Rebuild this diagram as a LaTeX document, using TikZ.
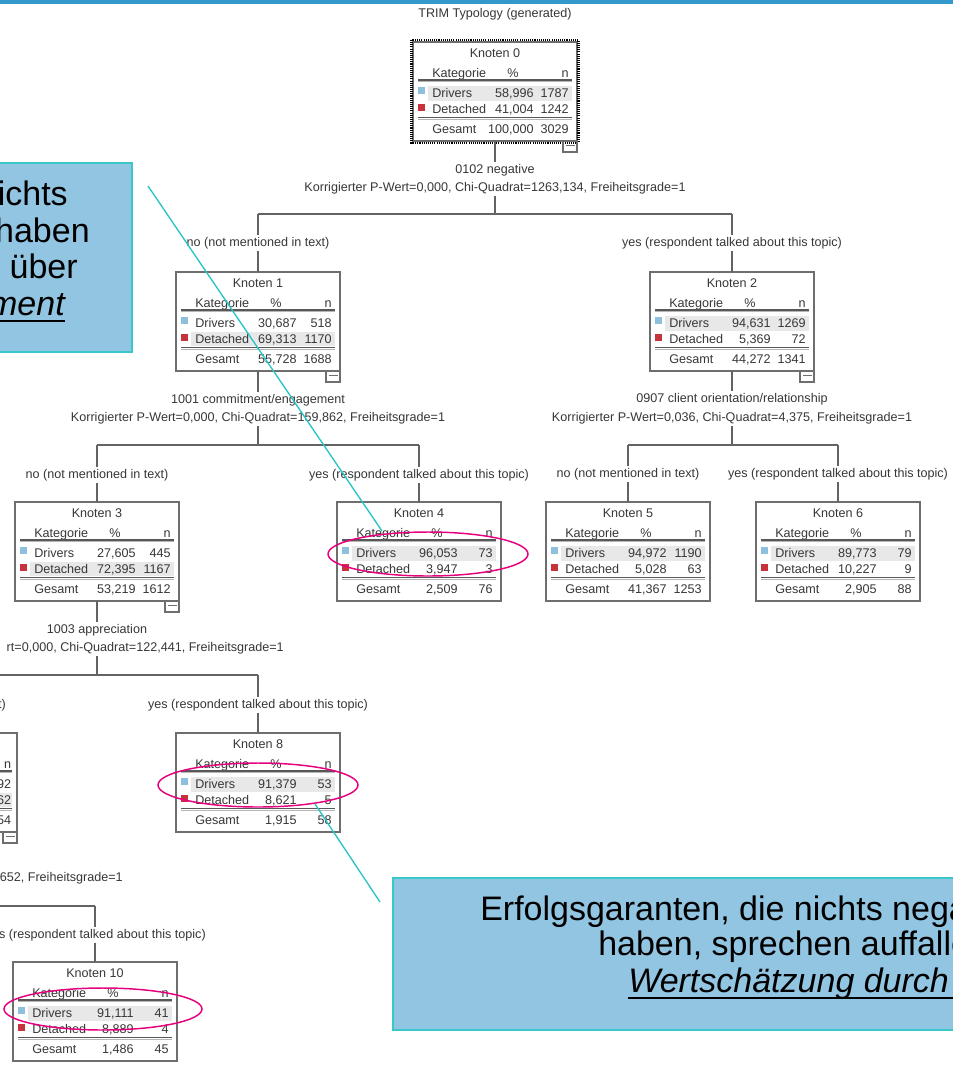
\documentclass[tikz,border=0pt]{standalone}
\usepackage{fontspec}
\setmainfont{Liberation Sans}
\usetikzlibrary{shapes.geometric}
\definecolor{barblue}{RGB}{51,153,204}
\definecolor{calfill}{RGB}{146,197,226}
\definecolor{calline}{RGB}{56,200,204}
\definecolor{mag}{RGB}{230,0,126}
\definecolor{tealln}{RGB}{40,196,196}
\definecolor{drv}{RGB}{142,192,222}
\definecolor{det}{RGB}{200,50,60}
\definecolor{hlg}{RGB}{232,232,232}
\definecolor{txt}{RGB}{55,55,55}
\definecolor{frm}{RGB}{110,110,110}
\tikzset{
  tt/.style={font=\fontsize{9.45pt}{11pt}\selectfont, text=txt, inner sep=1.5pt},
  kbox/.style={draw=frm, line width=1pt, minimum width=123pt, minimum height=74.25pt, inner sep=0pt, outer sep=0pt},
  collbox/.style={draw=frm, line width=0.8pt, minimum width=10.5pt, minimum height=8.25pt, inner sep=0pt, outer sep=0pt},
  sepa/.style={draw=frm!80!black, line width=0.8pt},
  sepb/.style={draw=frm!50, line width=0.6pt},
  tree/.style={draw=frm!90!black, line width=0.8pt},
  callout/.style={draw=calline, fill=calfill, line width=1.5pt, inner sep=0pt, outer sep=0pt},
  big/.style={font=\fontsize{25.5pt}{27pt}\selectfont, text=black, inner sep=0pt},
  ell/.style={draw=mag, line width=1.1pt, ellipse, inner sep=0pt},
  tl/.style={draw=tealln, line width=1pt}
}
\newcommand\knbox[5]{%
  \node[kbox, anchor=north west] (#1) at (#2,#3) {};
  \begin{scope}[shift={(#2,#3)}]
    \ifnum#5=1 \fill[hlg] (15,43.5) rectangle (159,58.5);\else\fill[hlg] (15,59.5) rectangle (159,74);\fi
    \node[tt, anchor=base] (#1-t) at (82,15) {#4};
    \node[tt, anchor=base west] (#1-k) at (17,35) {Kategorie};
    \node[tt, anchor=base] (#1-p) at (100,35) {\%};
    \node[tt, anchor=base east] (#1-n) at (158,35) {n};
    \draw[sepa] (5,38) -- (159,38);
    \draw[sepb] (5,39.8) -- (159,39.8);
    \fill[drv] (5,45) rectangle (12,52);
    \fill[det] (5,62) rectangle (12,69);
    \node[tt, anchor=base west] (#1-d) at (17,55) {Drivers};
    \node[tt, anchor=base west] (#1-e) at (17,71) {Detached};
    \draw[sepa] (5,75.5) -- (159,75.5);
    \draw[sepb] (5,77.3) -- (159,77.3);
    \node[tt, anchor=base west] (#1-g) at (17,91) {Gesamt};
  \end{scope}}
\newcommand\knvals[9]{%
  \begin{scope}[shift={(#2,#3)}]
    \node[tt, anchor=base east] (#1-p1) at (123,55) {#4};
    \node[tt, anchor=base east] (#1-n1) at (158,55) {#5};
    \node[tt, anchor=base east] (#1-p2) at (123,71) {#6};
    \node[tt, anchor=base east] (#1-n2) at (158,71) {#7};
    \node[tt, anchor=base east] (#1-p3) at (123,91) {#8};
    \node[tt, anchor=base east] (#1-n3) at (158,91) {#9};
  \end{scope}}
\newcommand\kncoll[3]{%
  \begin{scope}[shift={(#2,#3)}]
    \node[collbox, anchor=north east] (#1-c) at (164,99) {};
    \draw[draw=frm, line width=0.7pt] (152.5,103.5) -- (161.5,103.5);
  \end{scope}}
\begin{document}
\begin{tikzpicture}[x=0.75pt, y=-0.75pt]
\useasboundingbox (0,0) rectangle (953,1068);
\clip (0,0) rectangle (953,1068);
\fill[white] (0,0) rectangle (953,1068);
\fill[barblue] (0,0) rectangle (953,3.5);
\node[tt, anchor=base] (title) at (495,17) {TRIM Typology (generated)};

% ---- Knoten 0
\knbox{k0}{413}{42}{Knoten 0}{1}
\knvals{k0}{413}{42}{58,996}{1787}{41,004}{1242}{100,000}{3029}
\draw[black, line width=2.2pt, dash pattern=on 0.8pt off 0.8pt] (411.5,40) rectangle (578.5,143);
\kncoll{k0}{413}{42}

\node[tt, anchor=base] (s0a) at (495,173) {0102 negative};
\node[tt, anchor=base] (s0b) at (495,191) {Korrigierter P-Wert=0,000, Chi-Quadrat=1263,134, Freiheitsgrade=1};
\coordinate (b0) at (495,214);
\coordinate (b0l) at (258,214);
\coordinate (b0r) at (732,214);
\node[tt, anchor=base] (y0n) at (258,246) {no (not mentioned in text)};
\node[tt, anchor=base] (y0y) at (732,246) {yes (respondent talked about this topic)};
\draw[tree] (k0) -- (s0a);
\draw[tree] (s0b) -- (b0);
\draw[tree] (b0l) -- (b0r);
\draw[tree] (b0l) -- (y0n);
\draw[tree] (b0r) -- (y0y);

% ---- Knoten 1
\knbox{k1}{176}{272}{Knoten 1}{2}
\knvals{k1}{176}{272}{30,687}{518}{69,313}{1170}{55,728}{1688}
\kncoll{k1}{176}{272}
\draw[tree] (y0n) -- (k1);
\node[tt, anchor=base] (s1a) at (258,403) {1001 commitment/engagement};
\node[tt, anchor=base] (s1b) at (258,421) {Korrigierter P-Wert=0,000, Chi-Quadrat=159,862, Freiheitsgrade=1};
\coordinate (b1) at (258,445);
\coordinate (b1l) at (97,445);
\coordinate (b1r) at (419,445);
\node[tt, anchor=base] (y1n) at (97,478) {no (not mentioned in text)};
\node[tt, anchor=base] (y1y) at (419,478) {yes (respondent talked about this topic)};
\draw[tree] (k1) -- (s1a);
\draw[tree] (s1b) -- (b1);
\draw[tree] (b1l) -- (b1r);
\draw[tree] (b1l) -- (y1n);
\draw[tree] (b1r) -- (y1y);

% ---- Knoten 2
\knbox{k2}{650}{272}{Knoten 2}{1}
\knvals{k2}{650}{272}{94,631}{1269}{5,369}{72}{44,272}{1341}
\kncoll{k2}{650}{272}
\draw[tree] (y0y) -- (k2);
\node[tt, anchor=base] (s2a) at (732,402) {0907 client orientation/relationship};
\node[tt, anchor=base] (s2b) at (732,421) {Korrigierter P-Wert=0,036, Chi-Quadrat=4,375, Freiheitsgrade=1};
\coordinate (b2) at (732,445);
\coordinate (b2l) at (628,445);
\coordinate (b2r) at (838,445);
\node[tt, anchor=base] (y2n) at (628,477) {no (not mentioned in text)};
\node[tt, anchor=base] (y2y) at (838,477) {yes (respondent talked about this topic)};
\draw[tree] (k2) -- (s2a);
\draw[tree] (s2b) -- (b2);
\draw[tree] (b2l) -- (b2r);
\draw[tree] (b2l) -- (y2n);
\draw[tree] (b2r) -- (y2y);

% ---- Knoten 3..6
\knbox{k3}{15}{502}{Knoten 3}{2}
\knvals{k3}{15}{502}{27,605}{445}{72,395}{1167}{53,219}{1612}
\kncoll{k3}{15}{502}
\draw[tree] (y1n) -- (k3);
\knbox{k4}{337}{502}{Knoten 4}{1}
\knvals{k4}{337}{502}{96,053}{73}{3,947}{3}{2,509}{76}
\draw[tree] (y1y) -- (k4);
\knbox{k5}{546}{502}{Knoten 5}{1}
\knvals{k5}{546}{502}{94,972}{1190}{5,028}{63}{41,367}{1253}
\draw[tree] (y2n) -- (k5);
\knbox{k6}{756}{502}{Knoten 6}{1}
\knvals{k6}{756}{502}{89,773}{79}{10,227}{9}{2,905}{88}
\draw[tree] (y2y) -- (k6);

% ---- split of Knoten 3
\node[tt, anchor=base] (s3a) at (97,633) {1003 appreciation};
\node[tt, anchor=base east] (s3b) at (286,651) {rt=0,000, Chi-Quadrat=122,441, Freiheitsgrade=1};
\coordinate (b3) at (97,675);
\coordinate (b3l) at (-65,675);
\coordinate (b3r) at (258,675);
\node[tt, anchor=base east] (y3n) at (8,708) {t)};
\node[tt, anchor=base] (y3y) at (258,708) {yes (respondent talked about this topic)};
\draw[tree] (k3) -- (s3a);
\draw[tree] (s3b.south -| b3) -- (b3);
\draw[tree] (b3l) -- (b3r);
\draw[tree] (b3r) -- (y3y);

% ---- Knoten 7 (partly visible)
\node[kbox, anchor=north west] (k7) at (-147,733) {};
\begin{scope}[shift={(-147,733)}]
  \fill[hlg] (15,59.5) rectangle (159,74);
  \node[tt, anchor=base east] (k7-n) at (160.5,35) {n};
  \draw[sepa] (5,38) -- (159,38);
  \draw[sepb] (5,39.8) -- (159,39.8);
  \node[tt, anchor=base east] (k7-n1) at (160.5,55) {92};
  \node[tt, anchor=base east] (k7-n2) at (160.5,71) {62};
  \draw[sepa] (5,75.5) -- (159,75.5);
  \draw[sepb] (5,77.3) -- (159,77.3);
  \node[tt, anchor=base east] (k7-n3) at (160.5,91) {54};
\end{scope}
\kncoll{k7}{-147}{733}

% ---- Knoten 8
\knbox{k8}{176}{733}{Knoten 8}{1}
\knvals{k8}{176}{733}{91,379}{53}{8,621}{5}{1,915}{58}
\draw[tree] (y3y) -- (k8);

% ---- split of Knoten 7
\node[tt, anchor=base east] (s7b) at (125,881) {652, Freiheitsgrade=1};
\coordinate (b7l) at (-65,906);
\coordinate (b7r) at (95,906);
\node[tt, anchor=base east] (y7y) at (208,938) {s (respondent talked about this topic)};
\draw[tree] (b7l) -- (b7r);
\draw[tree] (b7r) -- (b7r |- y7y.north);

% ---- Knoten 10
\knbox{k10}{13}{962}{Knoten 10}{1}
\knvals{k10}{13}{962}{91,111}{41}{8,889}{4}{1,486}{45}
\draw[tree] (b7r |- y7y.south) -- (k10);

% ---- callouts
\node[callout, anchor=north east, minimum width=114pt, minimum height=141.75pt] (cl) at (132,163) {};
\node[big, anchor=base east] (cl1) at (68,205) {ichts};
\node[big, anchor=base east] (cl2) at (90,242) {haben};
\node[big, anchor=base east] (cl3) at (78,278) {über};
\node[big, anchor=base east] (cl4) at (65,315) {\itshape ment};
\draw[black, line width=1.4pt] (-5,321) -- (cl4.base east |- 0,321);

\node[callout, anchor=north west, minimum width=450pt, minimum height=114pt] (cb) at (393,878) {};
\node[big, anchor=base west] (cb1) at (480,920) {Erfolgsgaranten, die nichts nega};
\node[big, anchor=base west] (cb2) at (598,955) {haben, sprechen auffalle};
\node[big, anchor=base west] (cb3) at (628,992) {\itshape Wertschätzung durch};
\draw[black, line width=1.4pt] (628,998) -- (960,998);

% ---- highlight ellipses and teal pointers
\node[ell, minimum width=150pt, minimum height=33pt] (e4) at (428,554) {};
\node[ell, minimum width=150pt, minimum height=33pt] (e8) at (258,785) {};
\node[ell, minimum width=148.5pt, minimum height=31.5pt] (e10) at (103,1009) {};
\coordinate (t1a) at (148,186);
\coordinate (t1b) at (382,531);
\coordinate (t2a) at (315,804);
\coordinate (t2b) at (380,902);
\draw[tl] (t1a) -- (t1b);
\draw[tl] (t2a) -- (t2b);
\end{tikzpicture}
\end{document}
